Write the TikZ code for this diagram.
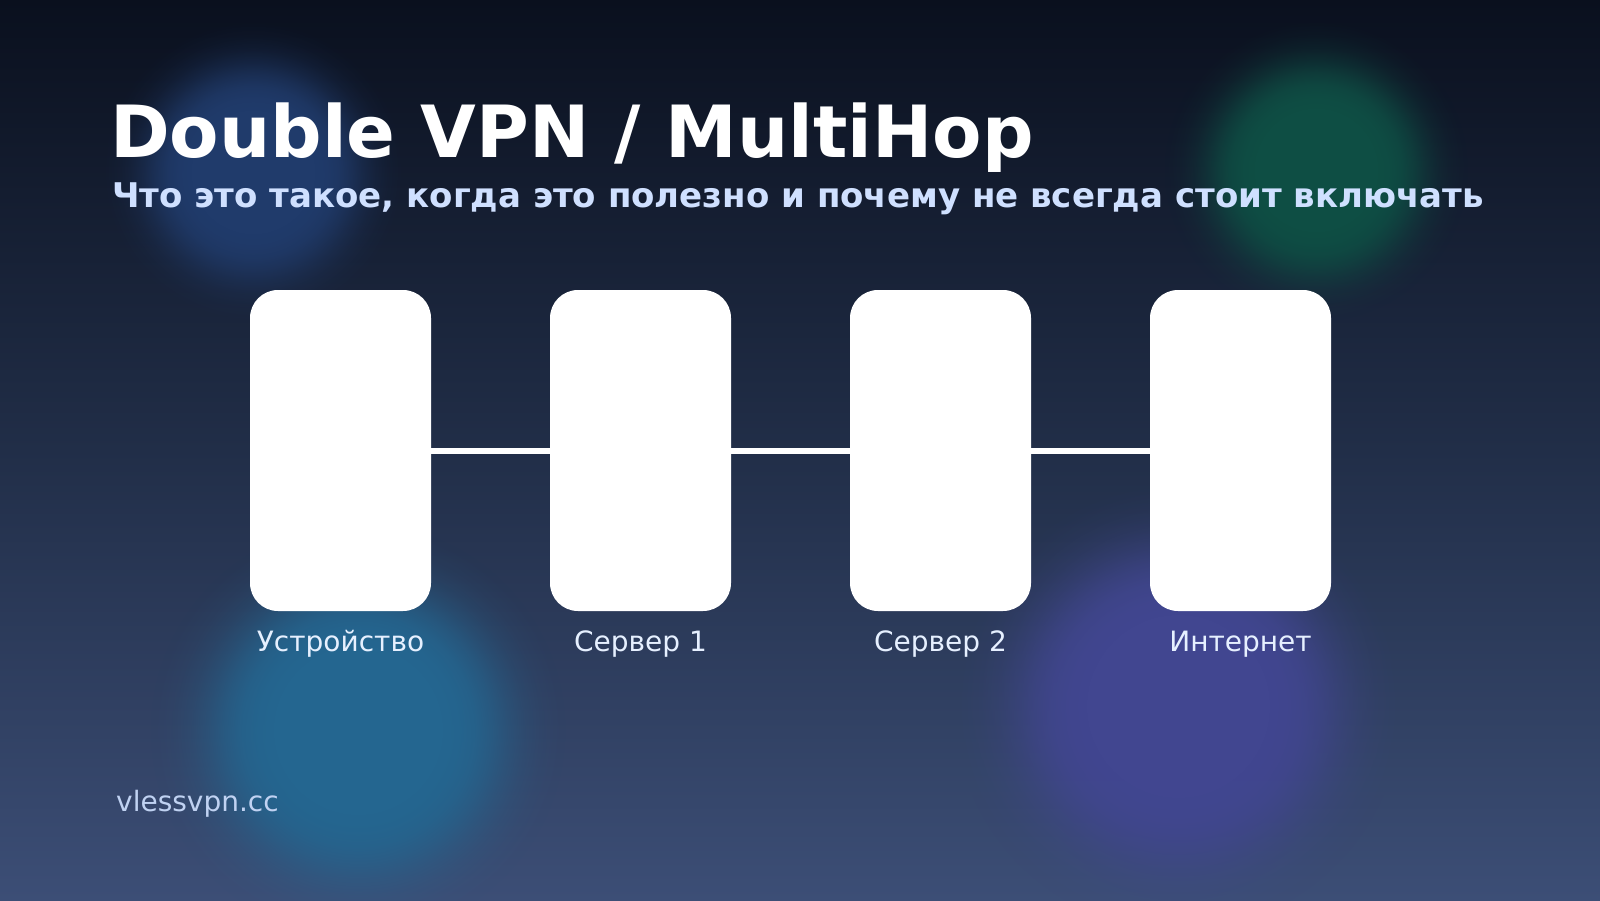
\documentclass[tikz,border=0pt]{standalone}
\usepackage{fontspec}
\setmainfont{DejaVu Sans}
\usetikzlibrary{fadings}
\definecolor{bgtop}{HTML}{0A101E}
\definecolor{bgmid}{HTML}{212E48}
\definecolor{bgbot}{HTML}{3C4E76}
\definecolor{blobblue}{HTML}{203B6B}
\definecolor{blobgreen}{HTML}{0E4E44}
\definecolor{blobteal}{HTML}{246690}
\definecolor{blobpurple}{HTML}{414690}
\definecolor{subcol}{HTML}{CFE0FF}
\definecolor{labcol}{HTML}{E6F0FF}
\definecolor{sitecol}{HTML}{C0D2F2}
\pgfdeclareverticalshading{bgshade}{100bp}{color(0bp)=(bgbot); color(25bp)=(bgbot); color(50bp)=(bgmid); color(75bp)=(bgtop); color(100bp)=(bgtop)}
\pgfdeclareradialshading{blobsh}{\pgfpoint{0bp}{0bp}}{%
 color(0bp)=(pgftransparent!0);
 color(10bp)=(pgftransparent!0);
 color(12bp)=(pgftransparent!4);
 color(14bp)=(pgftransparent!14);
 color(16bp)=(pgftransparent!34);
 color(18bp)=(pgftransparent!58);
 color(20bp)=(pgftransparent!78);
 color(22bp)=(pgftransparent!91);
 color(24bp)=(pgftransparent!98);
 color(25bp)=(pgftransparent!100);
 color(50bp)=(pgftransparent!100)}
\pgfdeclarefading{blobfade}{\pgfuseshading{blobsh}}
\tikzset{
 x=1pt,y=-1pt,
 blob/.style={fill=#1,path fading=blobfade,fit fading=true,draw=none},
 card/.style={draw=none,fill=white,rounded corners=28pt,minimum width=181pt,minimum height=321pt,inner sep=0pt,outer sep=0pt},
 link/.style={draw=white,line width=6pt},
 titletext/.style={anchor=base west,inner sep=0pt,text=white,font=\fontsize{72}{80}\selectfont\bfseries},
 subtext/.style={anchor=base west,inner sep=0pt,text=subcol,font=\fontsize{34}{40}\selectfont\bfseries},
 labeltext/.style={anchor=base,inner sep=0pt,text=labcol,font=\fontsize{28}{34}\selectfont},
 sitetext/.style={anchor=base west,inner sep=0pt,text=sitecol,font=\fontsize{28}{34}\selectfont},
}
\begin{document}
\begin{tikzpicture}
\useasboundingbox (0,0) rectangle (1600,900);
\shade[shading=bgshade] (0,0) rectangle (1600,900);
\path[blob=blobblue] (253,172) circle[radius=152];
\path[blob=blobgreen] (1316,170) circle[radius=152];
\path[blob=blobteal] (358,730) circle[radius=208];
\path[blob=blobpurple] (1178,706) circle[radius=225];
\node[card] (b1) at (340.5,450.5) {};
\node[card] (b2) at (640.5,450.5) {};
\node[card] (b3) at (940.5,450.5) {};
\node[card] (b4) at (1240.5,450.5) {};
\draw[link] (b1) -- (b2);
\draw[link] (b2) -- (b3);
\draw[link] (b3) -- (b4);
\node[titletext] (title) at (110,157) {Double VPN / MultiHop};
\node[subtext] (sub) at (112,207) {Что это такое, когда это полезно и почему не всегда стоит включать};
\node[labeltext] (l1) at (340.5,651) {Устройство};
\node[labeltext] (l2) at (640.5,651) {Сервер 1};
\node[labeltext] (l3) at (940.5,651) {Сервер 2};
\node[labeltext] (l4) at (1240.5,651) {Интернет};
\node[sitetext] (site) at (116,811) {vlessvpn.cc};
\end{tikzpicture}
\end{document}
